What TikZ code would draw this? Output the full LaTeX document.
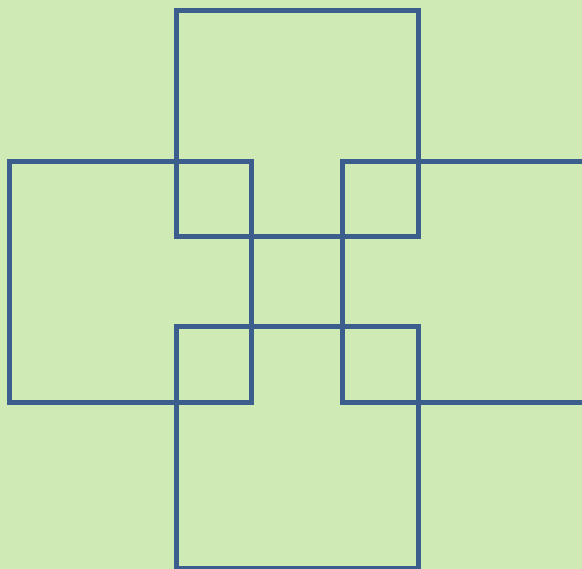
\documentclass[tikz,border=0pt]{standalone}
\definecolor{bgc}{RGB}{208,234,181}
\definecolor{linec}{RGB}{59,94,140}
\tikzset{sq/.style={draw=linec, line width=5pt, line join=miter}}
\begin{document}
\begin{tikzpicture}[x=1pt,y=-1pt]
\fill[bgc] (0,0) rectangle (582,569);
\useasboundingbox (0,0) rectangle (582,569);
\clip (0,0) rectangle (582,569);
\draw[sq] (176,11) rectangle (418,237);
\draw[sq] (9.5,161.5) rectangle (251.5,403);
\draw[sq] (342,161.5) rectangle (584,403);
\draw[sq] (176,327) rectangle (418,569);
\end{tikzpicture}
\end{document}
